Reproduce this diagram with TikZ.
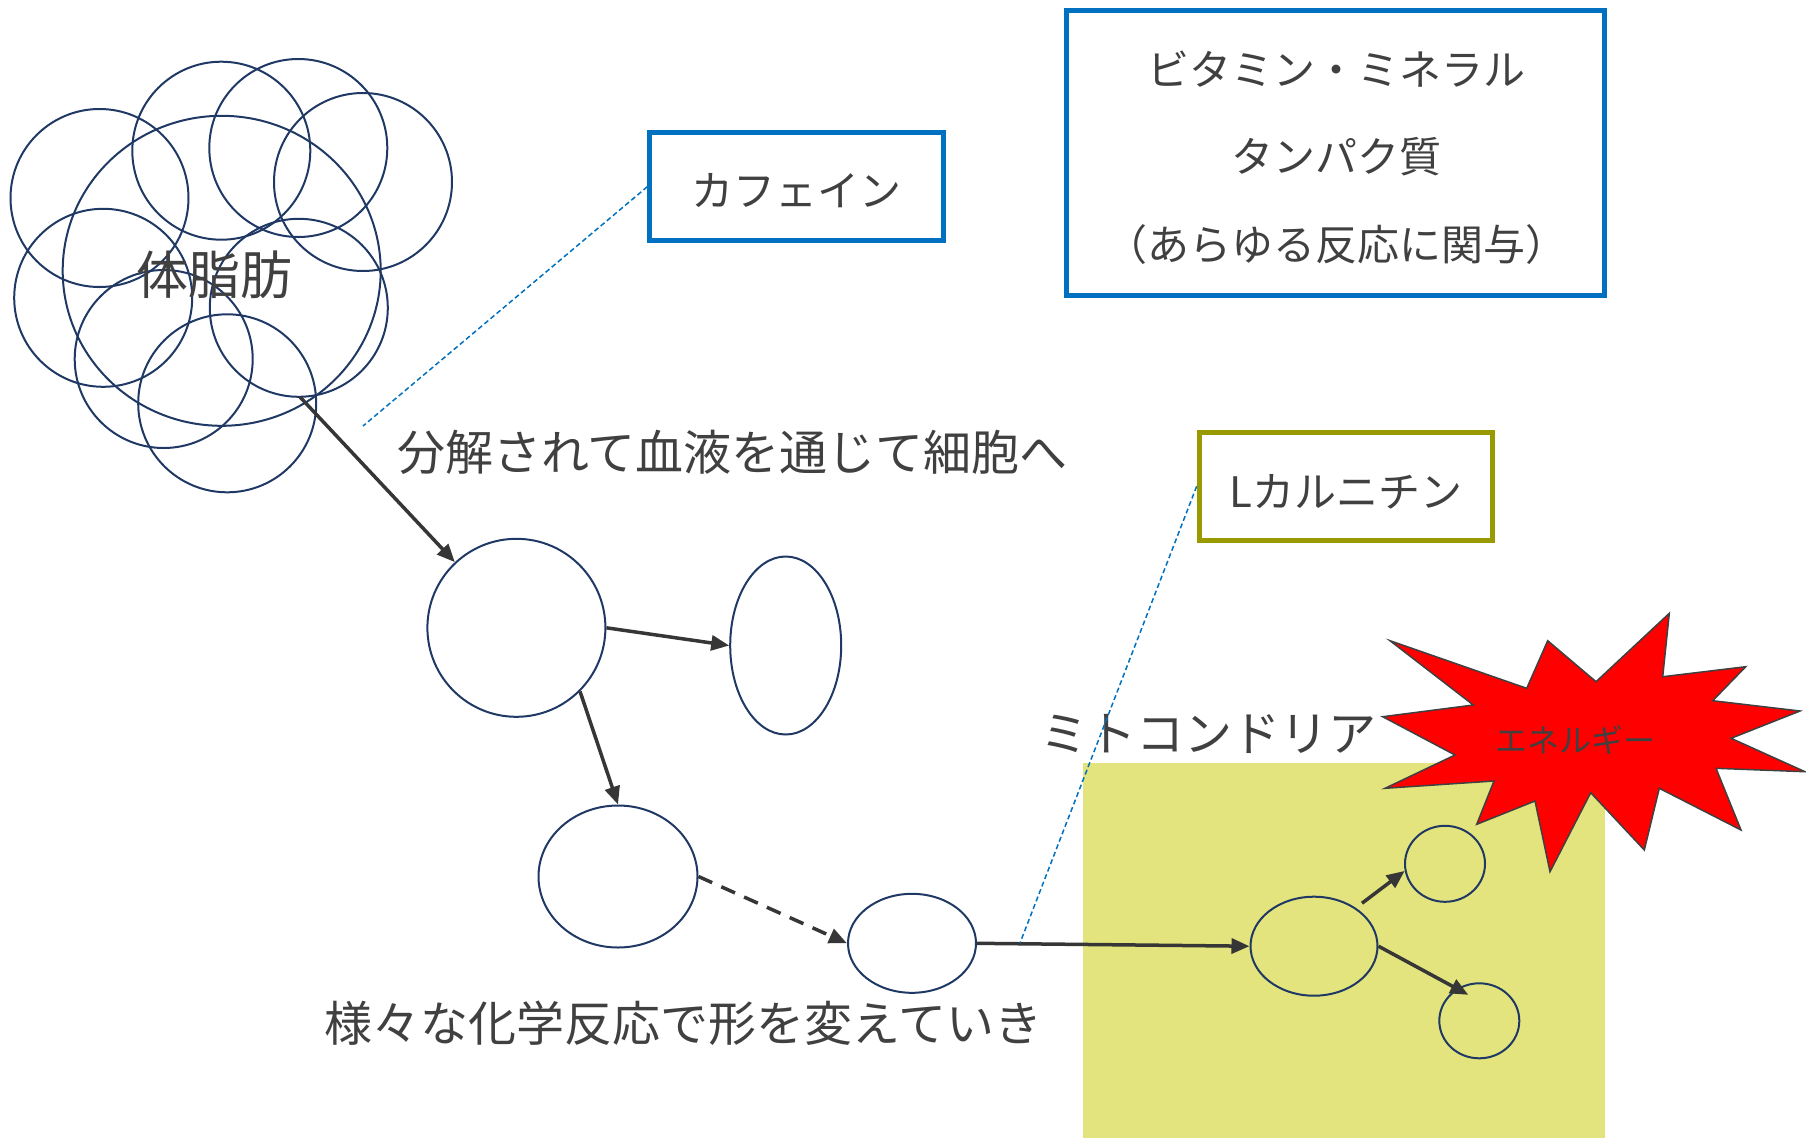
\documentclass[tikz,border=0pt]{standalone}
\usepackage{fontspec}
\setmainfont{Noto Sans CJK JP}
\usetikzlibrary{shapes.geometric,arrows.meta,calc}
\definecolor{navy}{HTML}{1F3864}
\definecolor{txt}{HTML}{404040}
\definecolor{boxblue}{HTML}{0070C0}
\definecolor{olivebox}{HTML}{999900}
\definecolor{mito}{HTML}{E4E47E}
\definecolor{arr}{HTML}{363636}
\begin{document}
\begin{tikzpicture}[x=1pt,y=-1pt,
  cell/.style={ellipse,draw=navy,line width=2pt,inner sep=0pt},
  flow/.style={draw=arr,line width=3.5pt,-{Triangle[length=18pt,width=15pt]}},
  guide/.style={draw=boxblue,line width=1.5pt,dash pattern=on 5pt off 3pt},
  lbl/.style={text=txt,font=\fontsize{48}{58}\selectfont,inner sep=0pt},
  boxlbl/.style={text=txt,font=\fontsize{42}{50}\selectfont,inner sep=0pt},
  supbox/.style={line width=5pt,inner sep=0pt,fill=white}
]
\useasboundingbox (0,0) rectangle (1806,1138);

% mitochondria area
\fill[mito] (1083,762.5) rectangle (1604.5,1138);

% energy burst
\draw[fill=red,draw=txt,line width=1.5pt,line join=miter]
 (1390,640.7) -- (1526.7,688.3) -- (1547.7,640.7) -- (1596,681.7) -- (1669.3,613.3)
 -- (1662.7,676.7) -- (1745.7,666.7) -- (1712.7,700.7) -- (1800,711) -- (1731,738.3)
 -- (1805,771.7) -- (1716,768.3) -- (1741,830) -- (1659.3,788.3) -- (1644.3,850)
 -- (1590.7,792.7) -- (1550,871.7) -- (1535,801) -- (1476.7,824.3) -- (1494,781)
 -- (1385,788.3) -- (1455,755) -- (1382.7,716.7) -- (1473.3,705) -- cycle;
\node[text=txt,font=\fontsize{32}{38}\selectfont,inner sep=0pt] (energy) at (1575.5,740) {エネルギー};

% body fat cloud
\node[cell,minimum width=318pt,minimum height=310pt] (c0) at (221.7,270.8) {};
\node[cell,minimum size=178pt] (c1) at (99.5,198) {};
\node[cell,minimum size=178pt] (c2) at (221.3,150.7) {};
\node[cell,minimum size=178pt] (c3) at (298.3,148) {};
\node[cell,minimum size=178pt] (c4) at (363,182) {};
\node[cell,minimum size=178pt] (c5) at (103.2,297.8) {};
\node[cell,minimum size=178pt] (c6) at (298.8,307.8) {};
\node[cell,minimum size=178pt] (c7) at (163.7,359) {};
\node[cell,minimum size=178pt] (c8) at (227.2,403.3) {};
\node[text=txt,font=\fontsize{52}{60}\selectfont,inner sep=0pt] (fat) at (214,275) {体脂肪};

% molecules
\node[cell,minimum width=178pt,minimum height=178pt] (A) at (516.4,627.8) {};
\node[cell,minimum width=111pt,minimum height=178pt] (B) at (785.7,645.5) {};
\node[cell,minimum width=159pt,minimum height=142pt] (C) at (618,876.5) {};
\node[cell,minimum width=128pt,minimum height=99pt] (D) at (912,943.3) {};
\node[cell,minimum width=127pt,minimum height=99pt] (E) at (1314,946.2) {};
\node[cell,minimum width=80pt,minimum height=76pt] (F) at (1445,863.8) {};
\node[cell,minimum width=80pt,minimum height=75pt] (G) at (1479.3,1020.8) {};

% arrows
\coordinate (fatout) at (300,397);
\draw[flow] (fatout) -- (A);
\draw[flow] (A.east) -- (B.west);
\draw[flow] (A.south east) -- (C.north);
\draw[flow,dash pattern=on 15pt off 10pt] (C.east) -- (D.west);
\draw[flow] (D.east) -- (E.west);
\draw[flow] ($(E.center)+(48,-43)$) -- (F.190);
\draw[flow] (E.east) -- ($(G.center)+(-11,-26)$);

% labels
\node[lbl] (t1) at (732.5,452.7) {分解されて血液を通じて細胞へ};
\node[lbl] (t2) at (683.6,1022.8) {様々な化学反応で形を変えていき};
\node[lbl] (t3) at (1208.2,733.7) {ミトコンドリア};

% supplement boxes
\coordinate (cafend) at (363,426);
\coordinate (carend) at (1020,943);
\node[supbox,draw=boxblue,minimum width=293.7pt,minimum height=108.3pt] (caf) at (796.7,186.7) {};
\node[boxlbl] (caft) at (796.7,190.7) {カフェイン};
\draw[guide] (caf.west) -- (cafend);

\node[supbox,draw=olivebox,minimum width=293.3pt,minimum height=107.7pt] (carn) at (1345.8,486.3) {};
\node[boxlbl] (carnt) at (1345.8,491.7) {Lカルニチン};
\draw[guide] (carn.west) -- (carend);

\node[supbox,draw=boxblue,minimum width=537.8pt,minimum height=285pt] (vit) at (1335.7,153.3) {};
\node[boxlbl,align=center,font=\fontsize{42}{87.5}\selectfont] (vitt) at (1336.5,157.5)
 {ビタミン・ミネラル\\タンパク質\\（あらゆる反応に関与）};
\end{tikzpicture}
\end{document}
